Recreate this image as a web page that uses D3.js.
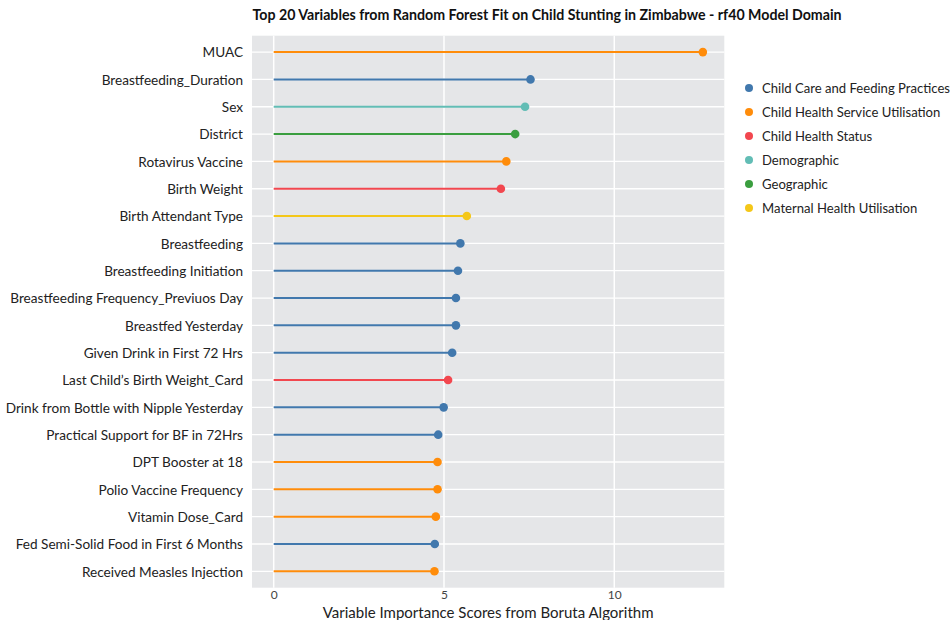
<!DOCTYPE html>
<html><head><meta charset="utf-8">
<script src="https://cdn.jsdelivr.net/npm/d3@7"></script>
<style>body{margin:0;background:#fff;} svg{display:block;font-family:Lato,"Noto Sans",sans-serif;}</style>
</head><body>
<svg id="chart" width="952" height="620"></svg>
<script>
const variables = ["MUAC","Breastfeeding_Duration","Sex","District","Rotavirus Vaccine","Birth Weight","Birth Attendant Type","Breastfeeding","Breastfeeding Initiation","Breastfeeding Frequency_Previuos Day","Breastfed Yesterday","Given Drink in First 72 Hrs","Last Child\u2019s Birth Weight_Card","Drink from Bottle with Nipple Yesterday","Practical Support for BF in 72Hrs","DPT Booster at 18","Polio Vaccine Frequency","Vitamin Dose_Card","Fed Semi-Solid Food in First 6 Months","Received Measles Injection"];
const scores = [12.60,7.54,7.38,7.09,6.83,6.67,5.67,5.48,5.41,5.35,5.35,5.24,5.12,4.99,4.83,4.81,4.81,4.76,4.73,4.72];
const domains = ["Child Health Service Utilisation","Child Care and Feeding Practices","Demographic","Geographic","Child Health Service Utilisation","Child Health Status","Maternal Health Utilisation","Child Care and Feeding Practices","Child Care and Feeding Practices","Child Care and Feeding Practices","Child Care and Feeding Practices","Child Care and Feeding Practices","Child Health Status","Child Care and Feeding Practices","Child Care and Feeding Practices","Child Health Service Utilisation","Child Health Service Utilisation","Child Health Service Utilisation","Child Care and Feeding Practices","Child Health Service Utilisation"];
const legendDomains = ["Child Care and Feeding Practices","Child Health Service Utilisation","Child Health Status","Demographic","Geographic","Maternal Health Utilisation"];
const domainColors = ["#4178AD","#FF8C0A","#F2474F","#62BDB5","#3A9E3F","#F4C719"];
const xTicks = [0,5,10];
const titleText = "Top 20 Variables from Random Forest Fit on Child Stunting in Zimbabwe - rf40 Model Domain";
const xTitle = "Variable Importance Scores from Boruta Algorithm";

const svg = d3.select("#chart");
const P = {left:252, right:724.3, top:35.7, bottom:587.7};
const x = d3.scaleLinear().domain([-0.637,13.23]).range([P.left,P.right]);
const y = d3.scalePoint().domain(variables).range([P.top,P.bottom]).padding(0.6);
const color = d3.scaleOrdinal().domain(legendDomains).range(domainColors);

svg.append("text").attr("x",547).attr("y",20).attr("text-anchor","middle")
  .attr("font-size",14.2).attr("font-weight","bold").attr("fill","#111").text(titleText);

svg.append("rect").attr("x",P.left).attr("y",P.top).attr("width",P.right-P.left).attr("height",P.bottom-P.top).attr("fill","#E5E6E8");

const g = svg.append("g");
g.selectAll("line.v").data(xTicks).join("line").attr("class","v")
  .attr("x1",d=>x(d)).attr("x2",d=>x(d)).attr("y1",P.top).attr("y2",P.bottom)
  .attr("stroke","#fff").attr("stroke-width",1.5);
g.selectAll("line.h").data(variables).join("line").attr("class","h")
  .attr("x1",P.left).attr("x2",P.right).attr("y1",d=>y(d)).attr("y2",d=>y(d))
  .attr("stroke","#fff").attr("stroke-width",1.3);

const rows = variables.map((v,i)=>({v, s:scores[i], d:domains[i]}));
g.selectAll("line.seg").data(rows).join("line").attr("class","seg")
  .attr("x1",x(0)).attr("x2",d=>x(d.s)).attr("y1",d=>y(d.v)).attr("y2",d=>y(d.v))
  .attr("stroke",d=>color(d.d)).attr("stroke-width",2);
g.selectAll("circle.pt").data(rows).join("circle").attr("class","pt")
  .attr("cx",d=>x(d.s)).attr("cy",d=>y(d.v)).attr("r",4.3).attr("fill",d=>color(d.d));

// y axis labels
const ya = svg.append("g").attr("transform",`translate(${P.left-9},0)`)
  .call(d3.axisLeft(y).tickSize(0).tickPadding(0));
ya.select(".domain").remove();
ya.selectAll("text").attr("font-size",13.6).attr("fill","#222").attr("font-family","Lato,'Noto Sans',sans-serif").attr("dy","0.35em");

// x axis
const xa = svg.append("g").attr("transform",`translate(0,${P.bottom})`)
  .call(d3.axisBottom(x).tickValues(xTicks).tickSize(0).tickPadding(3).tickFormat(d3.format("d")));
xa.select(".domain").remove();
xa.selectAll("text").attr("font-size",12).attr("fill","#444").attr("font-family","Lato,'Noto Sans',sans-serif");

svg.append("text").attr("x",(P.left+P.right)/2).attr("y",617.5).attr("text-anchor","middle")
  .attr("font-size",15).attr("fill","#222").text(xTitle);

// legend
const lg = svg.append("g").attr("transform","translate(749,88)");
const li = lg.selectAll("g").data(legendDomains).join("g").attr("transform",(d,i)=>`translate(0,${i*24})`);
li.append("circle").attr("r",4).attr("fill",d=>color(d));
li.append("text").attr("x",13).attr("dy","0.35em").attr("font-size",13.1).attr("fill","#222").text(d=>d);
</script>
</body></html>
